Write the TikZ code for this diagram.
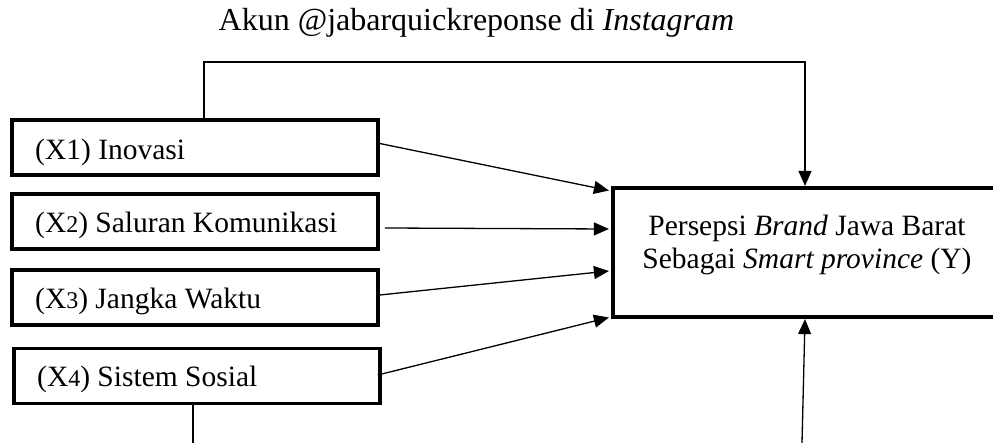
\documentclass[tikz,border=0pt]{standalone}
\usepackage{fontspec}
\setmainfont{Liberation Serif}
\usetikzlibrary{arrows.meta}
\newcommand{\smalldigit}[1]{{\fontsize{24}{24}\selectfont #1}}
\begin{document}
\begin{tikzpicture}[x=1pt,y=-1pt,
  xbox/.style={draw, line width=3.5pt, minimum width=366pt, minimum height=55pt, inner sep=0pt},
  ybox/.style={draw, line width=4.2pt, minimum width=388pt, minimum height=129pt, inner sep=0pt},
  boxtext/.style={anchor=base west, inner sep=0pt, font=\fontsize{29.5}{33}\selectfont},
  conn/.style={line width=1.3pt},
  arr/.style={conn, -{Triangle[length=15pt,width=13pt]}}]
\useasboundingbox (0,0) rectangle (993,443);
\clip (0,0) rectangle (993,443);
% boxes
\node[xbox] (x1) at (195,147.5) {};
\node[xbox] (x2) at (195,221.5) {};
\node[xbox] (x3) at (195,297.5) {};
\node[xbox] (x4) at (197,376) {};
\node[ybox] (y) at (807,252.5) {};
% texts
\node[boxtext] (t1) at (35,160) {(X1) Inovasi};
\node[boxtext] (t2) at (35,233) {(X\smalldigit{2}) Saluran Komunikasi};
\node[boxtext] (t3) at (35,309) {(X\smalldigit{3}) Jangka Waktu};
\node[boxtext] (t4) at (37,386) {(X\smalldigit{4}) Sistem Sosial};
\node[anchor=base, inner sep=0pt, font=\fontsize{29.5}{33}\selectfont] (ty1) at (807,236)
  {Persepsi \textit{Brand} Jawa Barat};
\node[anchor=base, inner sep=0pt, font=\fontsize{29.5}{33}\selectfont] (ty2) at (807,269)
  {Sebagai \textit{Smart province} (Y)};
\node[anchor=base, inner sep=0pt, font=\fontsize{32}{36}\selectfont] (title) at (476.5,31)
  {Akun @jabarquickreponse di \textit{Instagram}};
% connectors
\draw[arr] ([yshift=4pt]x1.east) -- ([xshift=-2pt,yshift=62pt]y.west);
\draw[arr] ([xshift=5pt,yshift=-6.5pt]x2.east) -- ([xshift=-2pt,yshift=23.5pt]y.west);
\draw[arr] ([yshift=2.5pt]x3.east) -- ([xshift=-2pt,yshift=-18.5pt]y.west);
\draw[arr] ([xshift=-4pt,yshift=1pt]x4.east) -- ([xshift=-2pt,yshift=-65pt]y.west);
\coordinate (top) at (500,62);
\draw[arr] ([xshift=9pt]x1.north) |- (top) -| ([xshift=-2pt]y.north);
\coordinate (bl) at (193,443);
\coordinate (br) at (802,443);
\draw[conn] ([xshift=-4pt]x4.south) -- (bl);
\draw[arr] (br) -- ([xshift=-2pt]y.south);
\end{tikzpicture}
\end{document}
